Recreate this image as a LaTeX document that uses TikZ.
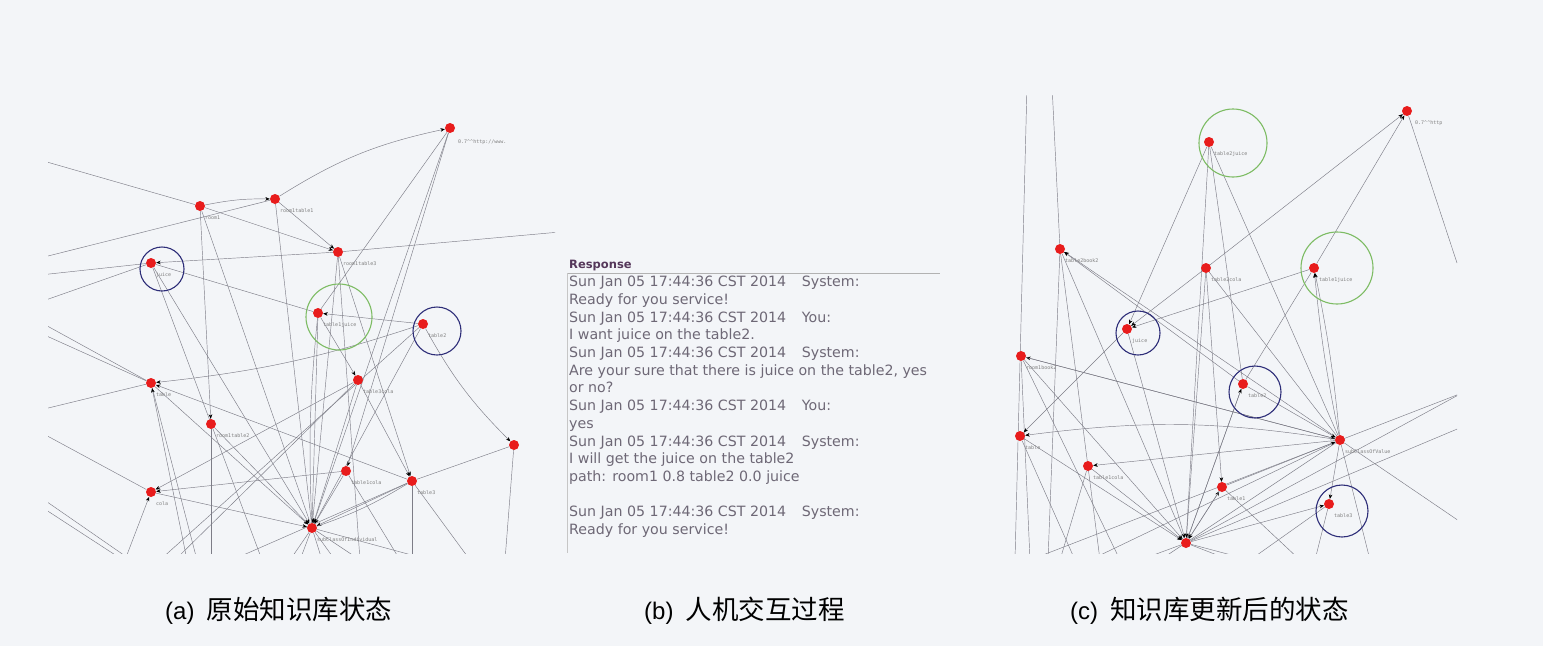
\documentclass[tikz,border=0pt]{standalone}
\usepackage{fontspec}
\setmainfont{Liberation Sans}
\setmonofont{DejaVu Sans Mono}
\newfontfamily\cjk{Noto Sans CJK SC}
\newfontfamily\respfont{DejaVu Sans}
\usepackage{tikz}
\usetikzlibrary{arrows.meta}
\usepackage{color}

\definecolor{paper}{RGB}{243,245,248}
\definecolor{edgegray}{RGB}{125,125,135}
\definecolor{dotred}{RGB}{232,28,28}
\definecolor{ringblue}{RGB}{45,45,120}
\definecolor{ringgreen}{RGB}{125,188,100}
\definecolor{resptext}{RGB}{110,104,118}
\definecolor{resphead}{RGB}{85,55,90}

\pgfdeclarelayer{bg}
\pgfdeclarelayer{edges}
\pgfsetlayers{bg,edges,main}

\tikzset{
  vert/.style={circle, fill=dotred, inner sep=0pt, minimum size=10pt},
  lbl/.style={font=\ttfamily\fontsize{5}{6}\selectfont, text=gray, inner sep=0pt, anchor=west},
  edg/.style={draw=edgegray, line width=0.45pt},
  arr/.style={edg, -{Stealth[length=4.5pt, width=3.6pt, color=black]}},
  ringb/.style={circle, draw=ringblue, line width=1.1pt, inner sep=0pt},
  ringg/.style={circle, draw=ringgreen, line width=1.1pt, inner sep=0pt},
  capt/.style={anchor=west, inner sep=0pt, font=\fontsize{24}{28}\selectfont}
}

\begin{document}
\begin{tikzpicture}[x=1pt, y=-1pt]
\begin{pgfonlayer}{bg}
\fill[paper] (0,0) rectangle (1543,646);
\end{pgfonlayer}
\useasboundingbox (0,0) rectangle (1543,646);

% (a) original knowledge base
\foreach \n/\x/\y/\t in {aRoom/200/206/room1, aRoomTa/275/199/room1table1,
    aRoomTc/338/252/room1table3, aJuice/151/263/juice, aTaJuice/318/313/table1juice,
    aTableB/423/324/table2, aTable/151/383/table, aTcCola/358/380/table3cola,
    aRoomTb/211/424/room1table2, aTaCola/346/471/table1cola, aTableC/412/481/table3,
    aCola/151/492/cola, aHub/312/528/subClassOfIndividual}
  {\node[vert] (\n) at (\x,\y) {};
   \node[lbl] (\n-l) at ([shift={(5,12)}]\n.center) {\t};}
\node[vert] (aHttp) at (450,128) {};
\node[lbl] (aHttp-l) at ([shift={(8,14)}]aHttp.center) {0.7\textasciicircum\textasciicircum http://www.};
\node[vert] (aRight) at (514,445) {};

\node[ringb, minimum size=44pt] (aJuiceR) at (162,269) {};
\node[ringg, minimum size=66pt] (aTaJuiceR) at (339,317) {};
\node[ringb, minimum size=48pt] (aTableBR) at (437,331) {};

\foreach \n/\x/\y in {aW1/40/160, aW2/40/258, aW3/40/275, aW4/40/302, aW5/40/410,
    aW6/40/322, aW7/40/333, aW8/40/497, aW9/40/506, aW10/40/432, aE1/560/232,
    aS1/505/560, aB1/131/560, aB2/123/560, aB3/211/560, aB4/187/560, aB5/197/560,
    aB6/412/560, aB7/400/560, aB8/290/560, aB9/300/560, aB10/322/560, aB11/335/560,
    aB12/360/560, aB13/430/560, aB15/175/560, aB16/160/560, aB17/232/560,
    aB18/125/560, aB19/470/560, aB20/262/560}
  \coordinate (\n) at (\x,\y);

\begin{pgfonlayer}{edges}
\begin{scope}
\clip (48,95) rectangle (555,553);
\foreach \p/\q in {aW1/aRoom, aW2/aRoomTa, aRoomTc/aE1, aW3/aJuice, aW4/aJuice,
    aJuice/aTaJuice, aW5/aTable, aW6/aTable, aW7/aTable, aW8/aB1, aW9/aB2,
    aW10/aCola, aRoom/aHub, aRoomTa/aHub, aRight/aS1, aTableC/aRight,
    aHttp/aTaJuice, aRoomTb/aB3, aTable/aB5, aTcCola/aB15, aTaJuice/aHub,
    aTableC/aB6, aTaCola/aB7, aHub/aB8, aHub/aB9, aHub/aB10, aHub/aB11,
    aHub/aB12, aHub/aB13, aTableB/aB16, aTableC/aB17, aTableC/aB19,
    aJuice/aB20, aRoomTc/aB12}
  \draw[edg] (\p) -- (\q);
\foreach \p/\q in {aRoom/aRoomTc, aRoomTa/aRoomTc, aRoomTc/aJuice,
    aTableB/aTaJuice, aTableC/aTable, aRoom/aRoomTb, aRoomTc/aTableC,
    aTaCola/aCola, aTcCola/aCola, aHttp/aTaCola, aHttp/aHub, aJuice/aHub,
    aTableB/aHub, aTcCola/aHub, aTaCola/aHub, aRoomTb/aHub, aTcCola/aTableC,
    aCola/aHub, aTableC/aHub, aTaJuice/aTcCola, aRoomTc/aHub, aB18/aCola,
    aB4/aTable, aTable/aHub}
  \draw[arr] (\p) -- (\q);
\draw[arr] (aRoom) to[bend left=6] (aRoomTa);
\draw[arr] (aRoomTa) to[bend left=10] (aHttp);
\draw[arr] (aTableB) to[bend left=6] (aTable);
\draw[arr] (aTableB) to[bend right=8] (aRight);
\draw[edg] (aTableC) to[bend left=6] (aHub);
\draw[edg] (aTaJuice) to[bend right=4] (aHub);
\end{scope}
\end{pgfonlayer}

% (b) human-robot dialogue
\draw[gray!60, line width=0.6pt] (567,273) -- (940,273);
\draw[gray!45, line width=0.6pt] (567,273) -- (567,553);
\node[anchor=south west, inner sep=0pt, text=resphead, font=\respfont\bfseries\fontsize{11.5}{13}\selectfont]
  (resp) at (569,271) {Response};
\node[anchor=north west, inner sep=0pt, align=left, text=resptext,
      font=\respfont\fontsize{14.2}{17.7}\selectfont] (dialog) at (569,276) {%
Sun Jan 05 17:44:36 CST 2014\hspace{1.1em}System:\\
Ready for you service!\\
Sun Jan 05 17:44:36 CST 2014\hspace{1.1em}You:\\
I want juice on the table2.\\
Sun Jan 05 17:44:36 CST 2014\hspace{1.1em}System:\\
Are your sure that there is juice on the table2, yes\\
or no?\\
Sun Jan 05 17:44:36 CST 2014\hspace{1.1em}You:\\
yes\\
Sun Jan 05 17:44:36 CST 2014\hspace{1.1em}System:\\
I will get the juice on the table2\\
path: room1 0.8 table2 0.0 juice\\
\mbox{}\\
Sun Jan 05 17:44:36 CST 2014\hspace{1.1em}System:\\
Ready for you service!};

% (c) knowledge base after update
\foreach \n/\x/\y/\t in {cTbJuice/1209/142/table2juice, cTbBook/1060/249/table2book2,
    cTbCola/1206/268/table2cola, cTaJuice/1314/268/table1juice, cJuice/1127/329/juice,
    cRoomBook/1021/356/room1book2, cTableB/1243/384/table2, cTable/1020/436/table,
    cHubB/1340/440/subClassOfValue, cTaCola/1088/466/table1cola,
    cTableA/1222/487/table1, cTableD/1329/504/table3}
  {\node[vert] (\n) at (\x,\y) {};
   \node[lbl] (\n-l) at ([shift={(5,12)}]\n.center) {\t};}
\node[vert] (cHttp) at (1407,111) {};
\node[lbl] (cHttp-l) at ([shift={(8,12)}]cHttp.center) {0.7\textasciicircum\textasciicircum http};
\node[vert] (cHub) at (1186,543) {};

\node[ringg, minimum size=68pt] (cTbJuiceR) at (1233,143) {};
\node[ringg, minimum size=72pt] (cTaJuiceR) at (1337,268) {};
\node[ringb, minimum size=44pt] (cJuiceR) at (1138,333) {};
\node[ringb, minimum size=52pt] (cTableBR) at (1255,392) {};
\node[ringb, minimum size=52pt] (cTableDR) at (1342,511) {};

\foreach \n/\x/\y in {cN1/1027/85, cS1/1015/560, cN2/1052/85, cE1/1457/263,
    cE2/1462/393, cE3/1462/427, cE4/1462/523, cS2/1100/560, cS3/1120/560,
    cS4/1315/560, cS5/1140/560, cS6/1075/560, cS7/1060/560, cS8/1030/560,
    cS9/1230/560, cS10/1250/560, cS11/1370/560, cS12/1300/560, cS13/1048/560,
    cS14/1090/560, cS15/1160/560}
  \coordinate (\n) at (\x,\y);

\begin{pgfonlayer}{edges}
\begin{scope}
\clip (1010,95) rectangle (1457,553);
\foreach \p/\q in {cN1/cS1, cN2/cTbBook, cHttp/cE1, cTbJuice/cTableB,
    cTbJuice/cHubB, cTbBook/cHub, cTbBook/cS2, cTbCola/cHubB, cTbCola/cHub,
    cRoomBook/cS3, cTaJuice/cTableB, cHub/cE2, cHub/cE3, cHubB/cE4,
    cTableD/cS4, cTable/cS6, cTaCola/cS7, cHub/cS5, cHub/cS9, cHub/cS10,
    cTableA/cS12, cHubB/cS11, cRoomBook/cS8, cTbBook/cS13, cTableD/cS10,
    cS14/cHubB, cS15/cHubB, cS8/cE2}
  \draw[edg] (\p) -- (\q);
\foreach \p/\q in {cTbCola/cHttp, cTaJuice/cHttp, cTbJuice/cJuice,
    cTableB/cTbBook, cHubB/cTbBook, cTbCola/cJuice, cTaJuice/cJuice,
    cHubB/cRoomBook, cJuice/cTable, cHubB/cTaCola, cHub/cTableA,
    cHubB/cTableD, cHub/cTableD, cTable/cHub, cTaCola/cHub, cTableA/cHub,
    cTableB/cHub, cRoomBook/cHub, cJuice/cHub, cTableA/cHubB, cTableB/cHubB,
    cRoomBook/cHubB, cTbJuice/cHub, cTbCola/cTableA, cHub/cTableB}
  \draw[arr] (\p) -- (\q);
\draw[arr] (cHubB) to[bend left=3] (cTaJuice);
\draw[arr] (cHubB) to[bend right=3] (cTaJuice);
\draw[arr] (cHubB) to[bend right=8] (cTable);
\end{scope}
\end{pgfonlayer}

% captions
\node[capt] (captA) at (165,611) {(a)\hspace{12pt}{\cjk\fontsize{26.5}{28}\selectfont 原始知识库状态}};
\node[capt] (captB) at (644,611) {(b)\hspace{12pt}{\cjk\fontsize{26.5}{28}\selectfont 人机交互过程}};
\node[capt] (captC) at (1070,611) {(c)\hspace{12pt}{\cjk\fontsize{26.5}{28}\selectfont 知识库更新后的状态}};
\end{tikzpicture}
\end{document}
